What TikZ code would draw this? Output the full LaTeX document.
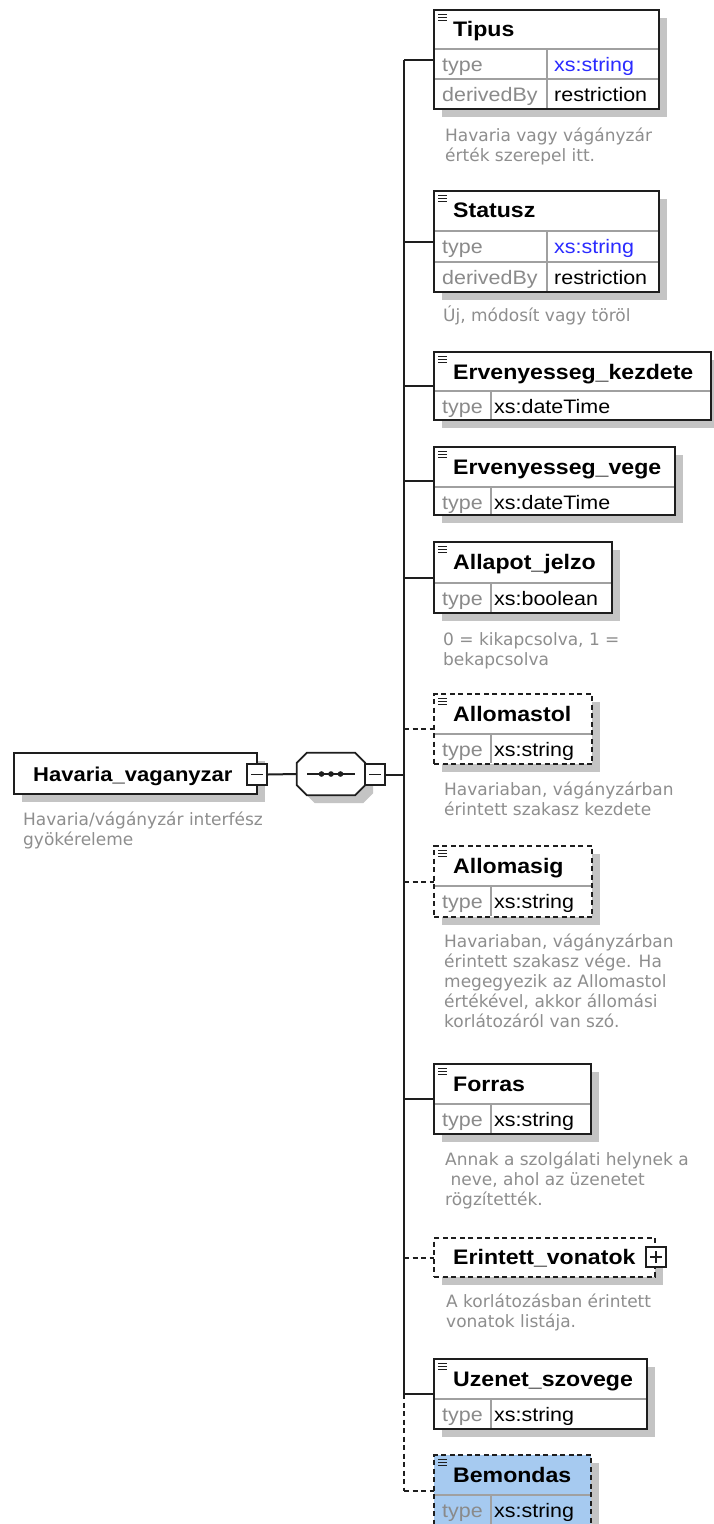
\documentclass[tikz,border=0pt]{standalone}
\usepackage{fontspec}
\usetikzlibrary{shadows}
\newfontfamily\xfont{Liberation Sans}[FakeStretch=1.1]
\newfontfamily\dfont{DejaVu Sans}
\definecolor{bordc}{HTML}{1E1E1E}
\definecolor{innerc}{HTML}{A0A0A0}
\definecolor{shadc}{HTML}{C4C4C4}
\definecolor{descc}{HTML}{8E8E8E}
\definecolor{labc}{HTML}{8A8A8A}
\definecolor{valblue}{HTML}{2B2BFF}
\definecolor{optfill}{HTML}{A6CAF0}

% three-line "documentation" mark in the top left corner of an element box
\newcommand\elicon[1]{\foreach \dy in {4,7,10} \draw[icon] ([shift={(4,\dy)}]#1.north west) -- ++(9,0);}
% grey annotation lines below a box, 20pt apart
\newcommand\desclines[4]{\foreach \ln [count=\k] in {#4}{\node[desc] (#1-\k) at (#2,{#3+20*(\k-1)}) {\ln};}}

\begin{document}
\begin{tikzpicture}[
  x=1pt, y=-1pt,
  shad/.style={drop shadow={shadow xshift=8pt, shadow yshift=-8pt, fill=shadc, opacity=1}},
  elbox/.style={draw=bordc, line width=1.9pt, fill=white, inner sep=0pt, outer sep=0pt, anchor=north west, shad},
  optbox/.style={elbox, dash pattern=on 5pt off 3.5pt},
  rule/.style={draw=innerc, line width=1.2pt},
  conn/.style={draw=bordc, line width=2pt},
  optconn/.style={conn, dash pattern=on 5pt off 3.5pt},
  nm/.style={font=\xfont\bfseries\fontsize{21}{24}\selectfont, text=black, inner sep=0pt, anchor=base west},
  lab/.style={font=\xfont\fontsize{19.5}{23}\selectfont, text=labc, inner sep=0pt, anchor=base west},
  val/.style={font=\xfont\fontsize{19.5}{23}\selectfont, text=black, inner sep=0pt, anchor=base west},
  desc/.style={font=\dfont\fontsize{17}{20}\selectfont, text=descc, inner sep=0pt, anchor=base west},
  tog/.style={draw=bordc, line width=1.4pt, fill=white, inner sep=0pt, minimum width=20pt, minimum height=21pt},
  icon/.style={draw=bordc, line width=0.9pt},
]
\path[use as bounding box] (0,0) rectangle (714,1524);
\clip (0,0) rectangle (714,1524);
\fill[white] (0,0) rectangle (714,1524);

% ---------- root element and sequence compositor ----------
\node[elbox, minimum width=243pt, minimum height=41pt] (root) at (14,753) {};
\node[nm, font=\xfont\bfseries\fontsize{20}{24}\selectfont] (root-n) at (33,781) {Havaria\_vaganyzar};
\node[tog] (rootm) at (257,774.5) {};
\draw[icon, line width=1.4pt] ([xshift=-6pt]rootm.center) -- ([xshift=6pt]rootm.center);
\desclines{rootd}{23}{825}{{Havaria/vágányzár interfész},{gyökéreleme}}

\node[inner sep=0pt, minimum width=68pt, minimum height=42pt] (seq) at (331,774) {};
\path[draw=bordc, line width=1.7pt, fill=white, shad]
  ([xshift=10pt]seq.north west) -- ([xshift=-10pt]seq.north east)
  -- ([yshift=-10pt]seq.north east) -- ([yshift=10pt]seq.south east)
  -- ([xshift=-10pt]seq.south east) -- ([xshift=10pt]seq.south west)
  -- ([yshift=10pt]seq.south west) -- ([yshift=-10pt]seq.north west) -- cycle;
\draw[conn, line width=1.6pt] ([xshift=-24pt]seq.center) -- ([xshift=24pt]seq.center);
\foreach \dx in {-9.5,0,9.5} \fill[bordc] ([xshift=\dx pt]seq.center) circle (2.8pt);
\node[tog] (seqm) at (375,774.5) {};
\draw[icon, line width=1.4pt] ([xshift=-6pt]seqm.center) -- ([xshift=6pt]seqm.center);

\coordinate (sp) at (404,774.5);

% ---------- child elements ----------
\node[elbox, minimum width=225pt, minimum height=99pt] (tipus) at (434,10) {};
\node[elbox, minimum width=225pt, minimum height=101pt] (statusz) at (434,191) {};
\node[elbox, minimum width=277pt, minimum height=68pt] (kezd) at (434,352) {};
\node[elbox, minimum width=241pt, minimum height=68pt] (vege) at (434,447) {};
\node[elbox, minimum width=178pt, minimum height=71pt] (allapot) at (434,542) {};
\node[optbox, minimum width=158pt, minimum height=70pt] (tol) at (434,694) {};
\node[optbox, minimum width=158pt, minimum height=71pt] (ig) at (434,846) {};
\node[elbox, minimum width=157pt, minimum height=70pt] (forras) at (434,1064) {};
\node[optbox, minimum width=221pt, minimum height=39pt] (erint) at (434,1238) {};
\node[elbox, minimum width=213pt, minimum height=70pt] (uzenet) at (434,1359) {};
\node[optbox, fill=optfill, minimum width=157pt, minimum height=72pt] (bemond) at (434,1455) {};

% ---------- connectors ----------
\draw[conn] (rootm.east) -- (seq.west);
\draw[conn] (seqm.east) -- (sp);
\draw[conn] (sp |- tipus.west) -- (sp |- uzenet.west);
\draw[optconn] (sp |- uzenet.west) -- (sp |- bemond.west);
\foreach \e in {tipus,statusz,kezd,vege,allapot,forras,uzenet}
  \draw[conn] (sp |- \e.west) -- (\e.west);
\foreach \e in {tol,ig,erint,bemond}
  \draw[optconn] (sp |- \e.west) -- (\e.west);

% ---------- Tipus ----------
\elicon{tipus}
\draw[rule] (435,49) -- (658,49) (435,79) -- (658,79) (547,49) -- (547,108);
\node[nm] (tipus-n) at (453,36) {Tipus};
\node[lab] (tipus-l1) at (442,71) {type};
\node[val, text=valblue] (tipus-v1) at (554,71) {xs:string};
\node[lab] (tipus-l2) at (442,101) {derivedBy};
\node[val] (tipus-v2) at (554,101) {restriction};
\desclines{tipusd}{445}{141}{{Havaria vagy vágányzár},{érték szerepel itt.}}

% ---------- Statusz ----------
\elicon{statusz}
\draw[rule] (435,231) -- (658,231) (435,262) -- (658,262) (547,231) -- (547,291);
\node[nm] (statusz-n) at (453,217) {Statusz};
\node[lab] (statusz-l1) at (442,253) {type};
\node[val, text=valblue] (statusz-v1) at (554,253) {xs:string};
\node[lab] (statusz-l2) at (442,284) {derivedBy};
\node[val] (statusz-v2) at (554,284) {restriction};
\desclines{statuszd}{443}{321}{{Új, módosít vagy töröl}}

% ---------- Ervenyesseg_kezdete ----------
\elicon{kezd}
\draw[rule] (435,391) -- (710,391) (491,391) -- (491,419);
\node[nm] (kezd-n) at (453,379) {Ervenyesseg\_kezdete};
\node[lab] (kezd-l) at (442,413) {type};
\node[val] (kezd-v) at (494,413) {xs:dateTime};

% ---------- Ervenyesseg_vege ----------
\elicon{vege}
\draw[rule] (435,487) -- (674,487) (491,487) -- (491,514);
\node[nm] (vege-n) at (453,474) {Ervenyesseg\_vege};
\node[lab] (vege-l) at (442,509) {type};
\node[val] (vege-v) at (494,509) {xs:dateTime};

% ---------- Allapot_jelzo ----------
\elicon{allapot}
\draw[rule] (435,583) -- (611,583) (491,583) -- (491,612);
\node[nm] (allapot-n) at (453,569) {Allapot\_jelzo};
\node[lab] (allapot-l) at (442,605) {type};
\node[val] (allapot-v) at (494,605) {xs:boolean};
\desclines{allapotd}{443}{645}{{0 = kikapcsolva, 1 =},{bekapcsolva}}

% ---------- Allomastol ----------
\elicon{tol}
\draw[rule] (435,734) -- (591,734) (491,734) -- (491,763);
\node[nm] (tol-n) at (453,721) {Allomastol};
\node[lab] (tol-l) at (442,756) {type};
\node[val] (tol-v) at (494,756) {xs:string};
\desclines{told}{444}{795}{{Havariaban, vágányzárban},{érintett szakasz kezdete}}

% ---------- Allomasig ----------
\elicon{ig}
\draw[rule] (435,886) -- (591,886) (491,886) -- (491,916);
\node[nm] (ig-n) at (453,873) {Allomasig};
\node[lab] (ig-l) at (442,908) {type};
\node[val] (ig-v) at (494,908) {xs:string};
\desclines{igd}{444}{947}{{Havariaban, vágányzárban},{érintett szakasz vége. Ha},{megegyezik az Allomastol},{értékével, akkor állomási},{korlátozáról van szó.}}

% ---------- Forras ----------
\elicon{forras}
\draw[rule] (435,1104) -- (590,1104) (491,1104) -- (491,1133);
\node[nm] (forras-n) at (453,1091) {Forras};
\node[lab] (forras-l) at (442,1126) {type};
\node[val] (forras-v) at (494,1126) {xs:string};
\desclines{forrasd}{445}{1165}{{Annak a szolgálati helynek a},{\ neve, ahol az üzenetet},{rögzítették.}}

% ---------- Erintett_vonatok ----------
\node[nm] (erint-n) at (453,1264) {Erintett\_vonatok};
\node[tog, minimum height=20pt] (erintp) at (656,1257) {};
\draw[icon, line width=1.4pt] ([xshift=-6pt]erintp.center) -- ([xshift=6pt]erintp.center)
  ([yshift=-6pt]erintp.center) -- ([yshift=6pt]erintp.center);
\desclines{erintd}{446}{1307}{{A korlátozásban érintett},{vonatok listája.}}

% ---------- Uzenet_szovege ----------
\elicon{uzenet}
\draw[rule] (435,1399) -- (646,1399) (491,1399) -- (491,1428);
\node[nm] (uzenet-n) at (453,1386) {Uzenet\_szovege};
\node[lab] (uzenet-l) at (442,1421) {type};
\node[val] (uzenet-v) at (494,1421) {xs:string};

% ---------- Bemondas ----------
\elicon{bemond}
\draw[rule] (435,1495) -- (590,1495) (491,1495) -- (491,1526);
\node[nm] (bemond-n) at (453,1482) {Bemondas};
\node[lab] (bemond-l) at (442,1517) {type};
\node[val] (bemond-v) at (494,1517) {xs:string};
\end{tikzpicture}
\end{document}
